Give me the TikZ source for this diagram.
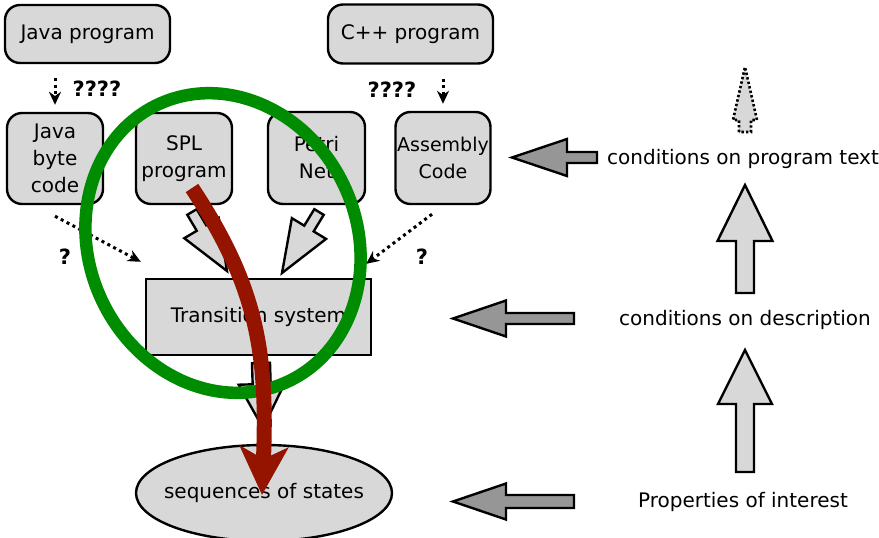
\documentclass[tikz,border=0pt]{standalone}
\usepackage{fontspec}
\setmainfont{DejaVu Sans}
\usetikzlibrary{calc,arrows.meta,shapes.geometric}
\definecolor{boxgray}{RGB}{216,216,216}
\definecolor{arrgray}{RGB}{150,150,150}
\definecolor{redarr}{RGB}{148,20,0}
\definecolor{greenring}{RGB}{0,140,0}
% block arrow: #1 style, #2 tail, #3 tip, #4 shaft half width, #5 head half width, #6 head length
\newcommand\blockarr[6]{%
  \coordinate (ba-b) at ($(#3)!#6!(#2)$);
  \draw[#1] ($(#2)!#4!90:(#3)$) -- ($(ba-b)!#4!-90:(#2)$) -- ($(ba-b)!#5!-90:(#2)$)
    -- (#3) -- ($(ba-b)!#5!90:(#2)$) -- ($(ba-b)!#4!90:(#2)$) -- ($(#2)!#4!-90:(#3)$) -- cycle;
}
\begin{document}
\begin{tikzpicture}[x=1pt,y=-1pt,
  font=\fontsize{20}{27}\selectfont,
  box/.style={draw, line width=2.4pt, fill=boxgray, rounded corners=15pt, inner sep=0pt, align=center},
  dotarr/.style={line width=3pt, dash pattern=on 3pt off 3.6pt, -{Stealth[length=13pt,width=12pt]}},
  lightarr/.style={draw, line width=2.4pt, fill=boxgray, line join=miter},
  darkarr/.style={draw, line width=2.4pt, fill=arrgray, line join=miter},
  dotblock/.style={draw, line width=2.6pt, dash pattern=on 2.4pt off 2.2pt, fill=boxgray},
  qmark/.style={inner sep=0pt, font=\fontsize{21}{27}\selectfont\bfseries},
  txt/.style={inner sep=0pt}]
\useasboundingbox (0,0) rectangle (879,538);

% top boxes
\node[box, minimum width=165pt, minimum height=58pt] (javap) at (87.5,34) {Java program};
\node[box, minimum width=165pt, minimum height=59pt] (cpp) at (410.5,34) {C++ program};
\node[box, minimum width=96pt, minimum height=91pt] (jbc) at (55,158.5) {Java\\byte\\code};
\node[box, minimum width=96pt, minimum height=91pt] (spl) at (184,158.5) {SPL\\program};
\node[box, minimum width=97pt, minimum height=92pt] (petri) at (316.5,158) {Petri\\Net};
\node[box, minimum width=95pt, minimum height=92pt, font=\fontsize{19}{27}\selectfont] (asm) at (443,158) {Assembly\\Code};

% transition system and sequences
\node[draw, line width=2.4pt, fill=boxgray, minimum width=225pt, minimum height=76pt, inner sep=0pt] (ts) at (258.5,317) {Transition system};
\node[ellipse, draw, line width=2.4pt, fill=boxgray, minimum width=256pt, minimum height=96pt, inner xsep=-40pt, inner ysep=0pt] (seq) at (264,493) {sequences of states};

% labels
\node[qmark] (q1) at (97,89) {????};
\node[qmark] (q2) at (392,90) {????};
\node[qmark] (q3) at (65,257) {?};
\node[qmark] (q4) at (422,257) {?};
\node[txt] (cpt) at (743,159) {conditions on program text};
\node[txt] (cod) at (745,320) {conditions on description};
\node[txt] (poi) at (743,502) {Properties of interest};

% dotted arrows
\draw[dotarr, shorten <=14pt, shorten >=7pt] (javap.south -| jbc.north) -- (jbc.north);
\draw[dotarr, shorten <=14pt, shorten >=7pt] (cpp.south -| asm.north) -- (asm.north);
\draw[dotarr] ([shift={(0,11)}]jbc.south) -- ([shift={(-4,-16)}]ts.north west);
\draw[dotarr] ([shift={(-11,9)}]asm.south) -- ([shift={(-6,-14)}]ts.north east);

% block arrows (left part)
\coordinate (a1t) at (192,212); \coordinate (a1p) at (227,271);
\blockarr{lightarr}{a1t}{a1p}{5.5pt}{20pt}{50pt}
\coordinate (a2t) at (319,212); \coordinate (a2p) at (282,273);
\blockarr{lightarr}{a2t}{a2p}{5.5pt}{20pt}{52pt}
\coordinate (a3t) at (261,363); \coordinate (a3p) at (263,428);
\blockarr{lightarr}{a3t}{a3p}{9pt}{23pt}{44pt}

% block arrows (right part)
\coordinate (u0t) at (745,132); \coordinate (u0p) at (745,67);
\blockarr{dotblock}{u0t}{u0p}{6pt}{12pt}{53pt}
\coordinate (u1t) at (745,293); \coordinate (u1p) at (745,185);
\blockarr{lightarr}{u1t}{u1p}{9pt}{27.5pt}{56pt}
\coordinate (u2t) at (745,472); \coordinate (u2p) at (745,350);
\blockarr{lightarr}{u2t}{u2p}{9pt}{27pt}{54pt}
\coordinate (l1t) at (597,157.5); \coordinate (l1p) at (512,157.5);
\blockarr{darkarr}{l1t}{l1p}{5.5pt}{18.5pt}{55pt}
\coordinate (l2t) at (574,318.5); \coordinate (l2p) at (453,318.5);
\blockarr{darkarr}{l2t}{l2p}{5.5pt}{18pt}{53pt}
\coordinate (l3t) at (574,501.5); \coordinate (l3p) at (453,501.5);
\blockarr{darkarr}{l3t}{l3p}{6.5pt}{18pt}{53pt}

% green ring
\draw[greenring, line width=12.5pt] (223,243) ellipse [x radius=134, y radius=153, rotate=25];

% red arrow
\coordinate (rs) at (192,188);
\coordinate (re) at (262,495);
\draw[redarr, line width=15pt, -{Stealth[length=48pt,width=48pt,inset=12pt]}] (rs) .. controls (256,285) and (268,350) .. (re);
\end{tikzpicture}
\end{document}
